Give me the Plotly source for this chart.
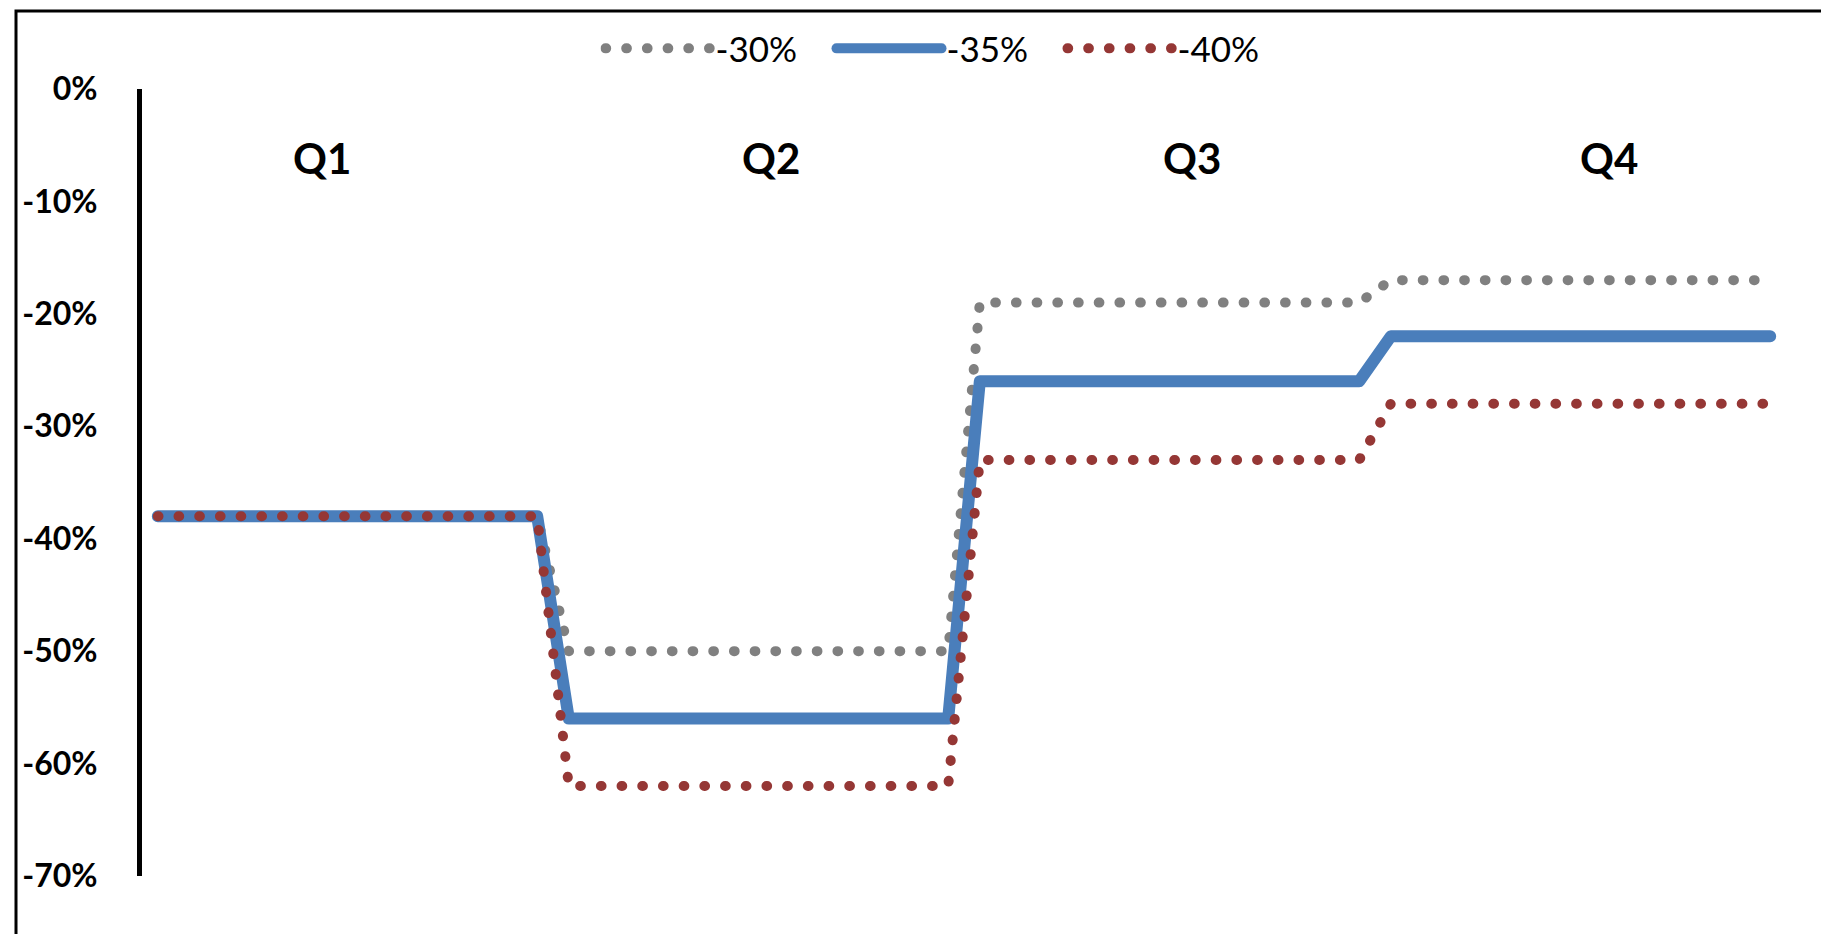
import plotly.graph_objects as go

weeks = list(range(1, 53))
series_names = ["-30%", "-35%", "-40%"]
vals_30 = [-0.38] * 13 + [-0.50] * 13 + [-0.19] * 13 + [-0.17] * 13
vals_35 = [-0.38] * 13 + [-0.56] * 13 + [-0.26] * 13 + [-0.22] * 13
vals_40 = [-0.38] * 13 + [-0.62] * 13 + [-0.33] * 13 + [-0.28] * 13
quarter_labels = ["Q1", "Q2", "Q3", "Q4"]
quarter_x = [6.2, 20.4, 33.7, 46.9]
quarter_y = [-0.061, -0.061, -0.061, -0.061]
tick_vals = [0, -0.1, -0.2, -0.3, -0.4, -0.5, -0.6, -0.7]
tick_text = ["0%", "-10%", "-20%", "-30%", "-40%", "-50%", "-60%", "-70%"]

GRAY = "#808080"
BLUE = "#4A7EBB"
RED = "#953735"

L, R, T, B = 134, 51, 80, 66
W, H = 1829, 934
PW, PH = W - L - R, H - T - B

fig = go.Figure()
fig.add_trace(go.Scatter(x=weeks, y=vals_30, name=series_names[0], mode="lines",
                         line=dict(color=GRAY, width=10, dash="0.7px,20px")))
fig.add_trace(go.Scatter(x=weeks, y=vals_35, name=series_names[1], mode="lines",
                         line=dict(color=BLUE, width=12)))
fig.add_trace(go.Scatter(x=weeks, y=vals_40, name=series_names[2], mode="lines",
                         line=dict(color=RED, width=10, dash="0.7px,20px")))

for lab, qx, qy in zip(quarter_labels, quarter_x, quarter_y):
    fig.add_annotation(x=qx, y=qy, text=lab, showarrow=False, xref="x", yref="y",
                       font=dict(family="Lato", size=42, color="black", weight="bold"))

fig.update_layout(
    width=W, height=H,
    margin=dict(l=L, r=R, t=T, b=B),
    paper_bgcolor="white", plot_bgcolor="white",
    font=dict(family="Lato", color="black"),
    showlegend=True,
    legend=dict(orientation="h", x=(939 - L) / PW, xanchor="center", y=1.05, yanchor="middle",
                font=dict(family="Lato", size=35, color="black"),
                itemwidth=105, entrywidth=111, bgcolor="rgba(0,0,0,0)"),
    xaxis=dict(range=[0.5, 52.5], showgrid=False, zeroline=False, showline=False,
               showticklabels=False, ticks=""),
    yaxis=dict(range=[-0.70, 0], tickvals=tick_vals, ticktext=tick_text,
               showgrid=False, zeroline=False, showline=True, linecolor="black",
               linewidth=5, ticks="", ticklabelstandoff=33,
               tickfont=dict(family="Lato", size=32, color="black", weight="bold")),
    shapes=[dict(type="rect", xref="paper", yref="paper",
                 x0=(8 - L) / PW, x1=(1818 - L) / PW,
                 y0=-0.2, y1=(H - B - 2) / PH,
                 line=dict(color="black", width=3), fillcolor="rgba(0,0,0,0)", layer="above")],
)

post = """
var gd = document.getElementById('{plot_id}');
function fixCaps(){
  gd.querySelectorAll('.js-line').forEach(function(p){
    p.style.strokeLinecap = 'round';
    p.style.strokeLinejoin = 'round';
  });
}
fixCaps();
gd.on('plotly_afterplot', fixCaps);
"""

fig.write_html("out.html", post_script=post)
